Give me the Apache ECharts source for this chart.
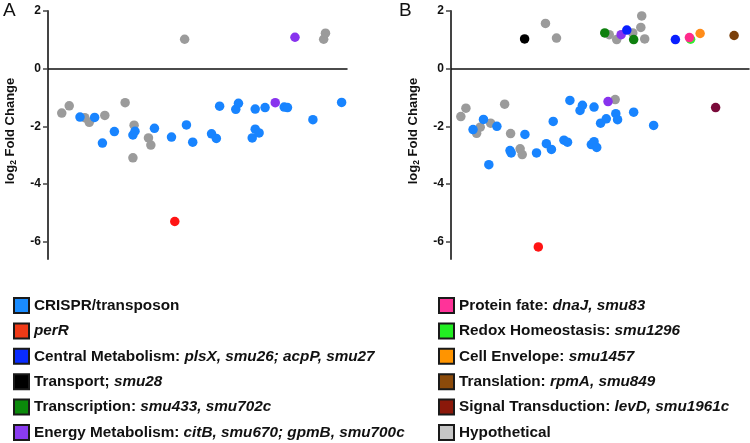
<!DOCTYPE html>
<html>
<head>
<meta charset="utf-8">
<script src="https://cdn.jsdelivr.net/npm/echarts@6/dist/echarts.min.js"></script>
<style>
  html, body { margin: 0; padding: 0; background: #fff; }
  #chart { width: 750px; height: 443px; }
</style>
</head>
<body>
<div id="chart"></div>
<script>
// y ticks shared by both panels
const yTicks = [2, 0, -2, -4, -6];

// legend categories: [plain part, italic part]
const categories = [
  ['CRISPR/transposon', ''],
  ['', 'perR'],
  ['Central Metabolism: ', 'plsX, smu26; acpP, smu27'],
  ['Transport; ', 'smu28'],
  ['Transcription: ', 'smu433, smu702c'],
  ['Energy Metabolism: ', 'citB, smu670; gpmB, smu700c'],
  ['Protein fate: ', 'dnaJ, smu83'],
  ['Redox Homeostasis: ', 'smu1296'],
  ['Cell Envelope: ', 'smu1457'],
  ['Translation: ', 'rpmA, smu849'],
  ['Signal Transduction: ', 'levD, smu1961c'],
  ['Hypothetical', '']
];
const pointColors = ['#1884ff', '#ff1414', '#0a1fff', '#000000', '#0f800f', '#8833ee',
  '#ff2a8c', '#33ee33', '#ff8c1a', '#7b400b', '#7a0a3a', '#9b9b9b'];
const legendColors = ['#1a8cff', '#f03a17', '#0a2cff', '#000000', '#0b8a0b', '#8a3cf0',
  '#ff3399', '#22ee22', '#ff9400', '#8b4a0a', '#8b180a', '#c6c6c6'];

// panel A: [gene position, log2 fold change]
const aHypothetical = [[4.6, -1.54], [7.1, -1.29], [12.3, -1.70], [13.8, -1.86], [19.0, -1.62],
  [25.8, -1.18], [28.8, -1.96], [28.4, -3.09], [33.6, -2.40], [34.4, -2.65], [45.7, 1.02],
  [92.2, 1.02], [92.8, 1.23]];
const aCrispr = [[10.7, -1.68], [15.6, -1.69], [18.2, -2.58], [22.2, -2.18], [28.4, -2.30],
  [29.1, -2.17], [35.6, -2.07], [41.3, -2.37], [46.3, -1.95], [48.4, -2.55], [54.7, -2.26],
  [56.3, -2.42], [57.4, -1.30], [62.8, -1.41], [63.7, -1.20], [68.3, -2.40], [69.3, -2.10],
  [70.6, -2.23], [69.3, -1.40], [72.6, -1.35], [79.0, -1.33], [80.1, -1.35], [88.6, -1.77],
  [98.2, -1.17]];
const aPerR = [[42.4, -5.30]];
const aEnergy = [[76.0, -1.18], [82.6, 1.09]];

// panel B
const bHypothetical = [[3.3, -1.66], [5.0, -1.37], [8.6, -2.24], [9.8, -2.03], [13.3, -1.89],
  [18.0, -1.23], [20.0, -2.25], [23.2, -2.78], [23.9, -2.98], [31.7, 1.57], [35.4, 1.06],
  [53.1, 1.18], [55.1, -1.07], [55.6, 1.01], [61.0, 1.24], [64.0, 1.83], [63.7, 1.43], [65.0, 1.03]];
const bCrispr = [[7.4, -2.11], [10.9, -1.76], [12.7, -3.33], [15.4, -2.00], [19.8, -2.84],
  [20.2, -2.92], [24.8, -2.28], [28.7, -2.92], [32.0, -2.60], [33.7, -2.80], [34.3, -1.83],
  [37.9, -2.48], [39.1, -2.55], [39.9, -1.10], [43.3, -1.45], [44.1, -1.27], [47.1, -2.63],
  [48.0, -2.53], [48.9, -2.73], [48.0, -1.33], [50.2, -1.89], [52.1, -1.74], [55.3, -1.56],
  [55.9, -1.77], [61.3, -1.51], [68.0, -1.97]];
const bPerR = [[29.3, -6.18]];
const bCentral = [[59.0, 1.34], [75.3, 1.01]];
const bTransport = [[24.7, 1.03]];
const bTranscription = [[51.6, 1.24], [61.3, 1.01]];
const bEnergy = [[52.7, -1.14], [57.1, 1.18]];
const bRedox = [[80.4, 1.02]];
const bProtein = [[80.0, 1.08]];
const bEnvelope = [[83.6, 1.22]];
const bTranslation = [[95.0, 1.15]];
const bSignal = [[88.8, -1.35]];

const names = categories.map(c => c[0] + c[1]);
const FONT = '"Liberation Sans", Arial, sans-serif';

function scatter(idx, grid, data) {
  return {
    name: names[idx],
    type: 'scatter',
    xAxisIndex: grid,
    yAxisIndex: grid,
    data: data,
    symbolSize: 9.5,
    itemStyle: { color: pointColors[idx], opacity: 1 },
    emphasis: { disabled: true }
  };
}

function yAxis(grid) {
  return {
    gridIndex: grid,
    type: 'value',
    min: -6.6,
    max: 2,
    name: '{a|log}{s|2}{a| Fold Change}',
    nameLocation: 'middle',
    nameRotate: 90,
    nameGap: 30,
    nameTextStyle: {
      padding: [0, 0, 0, 8],
      rich: {
        a: { fontFamily: FONT, fontWeight: 'bold', fontSize: 13, color: '#111' },
        s: { fontFamily: FONT, fontWeight: 'bold', fontSize: 8.5, color: '#111', padding: [7, 0, 0, 0] }
      }
    },
    axisLine: { show: true, lineStyle: { color: '#444', width: 2 } },
    axisTick: { show: true, length: 5, customValues: yTicks, lineStyle: { color: '#444', width: 1.5 } },
    axisLabel: { customValues: yTicks, margin: 7, color: '#111', fontWeight: 'bold', fontSize: 12, fontFamily: FONT },
    splitLine: { show: false }
  };
}

function xAxis(grid) {
  return {
    gridIndex: grid,
    type: 'value',
    min: 0,
    max: 100,
    axisLine: { show: true, onZero: true, lineStyle: { color: '#111', width: 1.5 } },
    axisTick: { show: false },
    axisLabel: { show: false },
    splitLine: { show: false }
  };
}

function legendData(list) {
  return list.map(i => ({
    name: names[i],
    itemStyle: { color: legendColors[i], borderColor: '#1a1a1a', borderWidth: 2 }
  }));
}

function legend(left, list) {
  return {
    orient: 'vertical',
    left: left,
    top: 297,
    height: 146,
    padding: 0,
    icon: 'rect',
    itemWidth: 15,
    itemHeight: 15,
    itemGap: 8.4,
    selectedMode: false,
    data: legendData(list),
    formatter: function (name) {
      const c = categories[names.indexOf(name)];
      let s = '';
      if (c[0]) s += '{n|' + c[0] + '}';
      if (c[1]) s += '{i|' + c[1] + '}';
      return s;
    },
    textStyle: {
      rich: {
        n: { fontFamily: FONT, fontWeight: 'bold', fontSize: 15.3, color: '#111', lineHeight: 17 },
        i: { fontFamily: FONT, fontWeight: 'bold', fontStyle: 'italic', fontSize: 15.3, color: '#111', lineHeight: 17 }
      }
    }
  };
}

const chart = echarts.init(document.getElementById('chart'), null, { renderer: 'canvas' });
chart.setOption({
  animation: false,
  backgroundColor: '#fff',
  grid: [
    { left: 48, top: 11, width: 299, bottom: 184 },
    { left: 451, top: 11, width: 298, bottom: 184 }
  ],
  xAxis: [xAxis(0), xAxis(1)],
  yAxis: [yAxis(0), yAxis(1)],
  legend: [
    legend(13, [0, 1, 2, 3, 4, 5]),
    legend(438, [6, 7, 8, 9, 10, 11])
  ],
  graphic: [
    { type: 'text', left: 3, top: 1, style: { text: 'A', fontFamily: FONT, fontSize: 19, fill: '#111' } },
    { type: 'text', left: 399, top: 1, style: { text: 'B', fontFamily: FONT, fontSize: 19, fill: '#111' } }
  ],
  series: [
    scatter(11, 0, aHypothetical),
    scatter(0, 0, aCrispr),
    scatter(1, 0, aPerR),
    scatter(5, 0, aEnergy),
    scatter(11, 1, bHypothetical),
    scatter(0, 1, bCrispr),
    scatter(1, 1, bPerR),
    scatter(3, 1, bTransport),
    scatter(4, 1, bTranscription),
    scatter(5, 1, bEnergy),
    scatter(2, 1, bCentral),
    scatter(7, 1, bRedox),
    scatter(6, 1, bProtein),
    scatter(8, 1, bEnvelope),
    scatter(9, 1, bTranslation),
    scatter(10, 1, bSignal)
  ]
});
</script>
</body>
</html>
